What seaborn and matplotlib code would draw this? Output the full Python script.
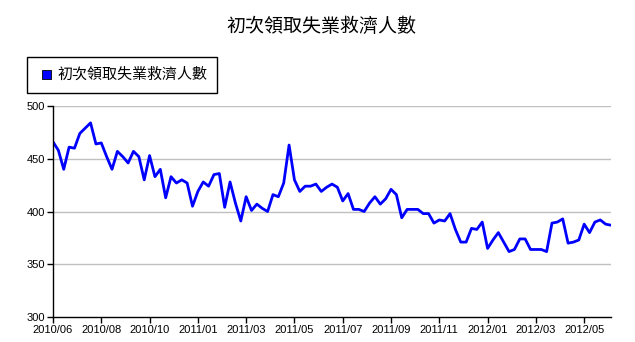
import matplotlib
matplotlib.use("Agg")
import matplotlib.pyplot as plt
from matplotlib.patches import Rectangle
import seaborn as sns
import pandas as pd

# Weekly initial jobless claims (thousands), June 2010 – June 2012
claims = [
    466, 458, 440, 461, 460, 474, 479, 484, 464, 465,
    452, 440, 457, 452, 446, 457, 452, 430, 453, 433,
    440, 413, 433, 427, 430, 427, 405, 419, 428, 424,
    435, 436, 404, 428, 408, 391, 414, 401, 407, 403,
    400, 416, 414, 427, 463, 430, 419, 424, 424, 426,
    419, 423, 426, 423, 410, 417, 402, 402, 400, 408,
    414, 407, 412, 421, 416, 394, 402, 402, 402, 398,
    398, 389, 392, 391, 398, 383, 371, 371, 384, 383,
    390, 365, 373, 380, 371, 362, 364, 374, 374, 364,
    364, 364, 362, 389, 390, 393, 370, 371, 373, 388,
    380, 390, 392, 388, 387,
]
week = list(range(len(claims)))

tick_step = 9
tick_labels = [
    "2010/06", "2010/08", "2010/10", "2011/01", "2011/03", "2011/05",
    "2011/07", "2011/09", "2011/11", "2012/01", "2012/03", "2012/05",
]
y_ticks = [300, 350, 400, 450, 500]
series_name = "初次領取失業救濟人數"
title = "初次領取失業救濟人數"
line_color = "#0000ff"

df = pd.DataFrame({"week": week, "claims": claims, "series": series_name})

sns.set_theme(style="white")
plt.rcParams["font.family"] = ["Noto Sans CJK TC", "Liberation Sans", "DejaVu Sans"]

W, H = 635, 342
fig = plt.figure(figsize=(W / 100, H / 100), dpi=100)
ax = fig.add_axes([53 / W, 1 - 317 / H, (611 - 53) / W, (317 - 106) / H])

sns.lineplot(data=df, x="week", y="claims", color=line_color, linewidth=2,
             ax=ax, legend=False)

ax.set_xlim(0, len(claims) - 1)
ax.set_ylim(y_ticks[0], y_ticks[-1])
ax.set_yticks(y_ticks)
ax.set_xticks(list(range(0, len(claims), tick_step))[:len(tick_labels)])
ax.set_xticklabels(tick_labels, fontfamily="Liberation Sans", fontsize=8)
ax.set_yticklabels([str(v) for v in y_ticks],
                   fontfamily="Liberation Sans", fontsize=8)
ax.set_xlabel("")
ax.set_ylabel("")

for v in y_ticks[1:]:
    ax.axhline(v, color="#c0c0c0", linewidth=1, zorder=0)

for side in ["top", "right"]:
    ax.spines[side].set_visible(False)
for side in ["left", "bottom"]:
    ax.spines[side].set_color("black")
    ax.spines[side].set_linewidth(1)
ax.tick_params(axis="both", direction="out", length=4, width=1,
               color="black", labelcolor="black", pad=2,
               left=True, bottom=True)

fig.text(321 / W, 1 - 26 / H, title, ha="center", va="center",
         fontsize=13.7, color="black", fontweight="medium")

# legend box above the plot area
fig.patches.append(Rectangle((27 / W, 1 - 93 / H), (217 - 27) / W, 36 / H,
                             transform=fig.transFigure, facecolor="white",
                             edgecolor="black", linewidth=1))
fig.patches.append(Rectangle((42 / W, 1 - 79 / H), 9 / W, 9 / H,
                             transform=fig.transFigure, facecolor=line_color,
                             edgecolor="black", linewidth=0.6))
fig.text(57 / W, 1 - 75 / H, series_name, ha="left", va="center",
         fontsize=10.8, color="black")

fig.savefig("out.png", dpi=100)
